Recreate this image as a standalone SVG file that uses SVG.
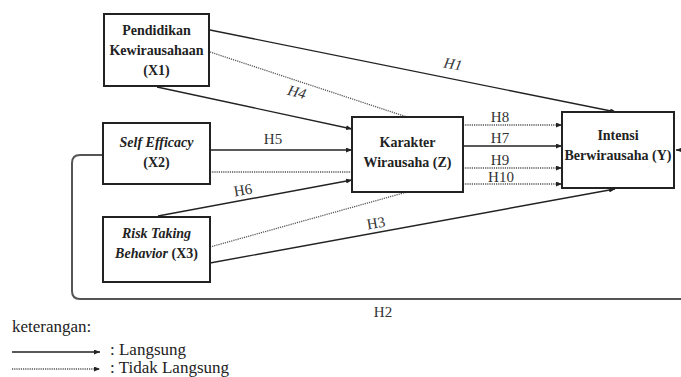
<svg xmlns="http://www.w3.org/2000/svg" width="681" height="377" viewBox="0 0 681 377">
<style>
.box{fill:#fff;stroke:#222;stroke-width:2}
.nt{font-family:"Liberation Serif",serif;font-size:14px;font-weight:bold;fill:#222;text-anchor:middle}
.it{font-style:italic}
.lab{font-family:"Liberation Serif",serif;font-size:15px;fill:#333;text-anchor:middle}
.leg{font-family:"Liberation Serif",serif;font-size:17px;fill:#222}
.solid{fill:none;stroke:#222;stroke-width:1.4}
.dot{fill:none;stroke:#555;stroke-width:1.3;stroke-dasharray:1.2 1}
</style>
<defs>
<marker id="ah" viewBox="0 0 6 5" refX="6" refY="2.5" markerWidth="6" markerHeight="5" orient="auto" markerUnits="userSpaceOnUse">
<path d="M0,0 L6,2.5 L0,5 z" fill="#222"/>
</marker>
</defs>
<rect width="681" height="377" fill="#fff"/>
<g id="connectors">
<line class="solid" x1="210" y1="30" x2="616" y2="112" marker-end="url(#ah)"/>
<line class="dot" x1="210" y1="52" x2="407" y2="117"/>
<line class="solid" x1="157" y1="87" x2="352" y2="129" marker-end="url(#ah)"/>
<line class="solid" x1="210" y1="150" x2="352" y2="150" marker-end="url(#ah)"/>
<line class="dot" x1="210" y1="172" x2="352" y2="172"/>
<line class="solid" x1="158" y1="216" x2="352" y2="180" marker-end="url(#ah)"/>
<line class="dot" x1="210" y1="247" x2="407" y2="192"/>
<line class="solid" x1="210" y1="263" x2="615" y2="189" marker-end="url(#ah)"/>
<line class="dot" x1="463" y1="125" x2="562" y2="125" marker-end="url(#ah)"/>
<line class="solid" x1="463" y1="146" x2="562" y2="146" marker-end="url(#ah)"/>
<line class="dot" x1="463" y1="168" x2="562" y2="168" marker-end="url(#ah)"/>
<line class="dot" x1="463" y1="184" x2="562" y2="184" marker-end="url(#ah)"/>
<path d="M103,155 H80 Q72,155 72,163 V291 Q72,299 80,299 H690 V150 H676" fill="none" stroke="#555" stroke-width="2" marker-end="url(#ah)"/>
<text class="lab it" x="453" y="69" transform="rotate(11 453 64)">H1</text>
<text class="lab it" x="297" y="97" transform="rotate(15 297 92)">H4</text>
<text class="lab" x="273" y="144">H5</text>
<text class="lab" x="243" y="195" transform="rotate(-10 243 190)">H6</text>
<text class="lab" x="376" y="228" transform="rotate(-10 376 223)">H3</text>
<text class="lab" x="500" y="122">H8</text>
<text class="lab" x="500" y="143">H7</text>
<text class="lab" x="500" y="165">H9</text>
<text class="lab" x="501" y="182">H10</text>
<text class="lab" x="383" y="317">H2</text>
</g>
<g id="X1">
<rect class="box" x="104" y="14" width="105" height="72"/>
<text class="nt" x="156.5" y="35">Pendidikan</text>
<text class="nt" x="156.5" y="55">Kewirausahaan</text>
<text class="nt" x="156.5" y="75">(X1)</text>
</g>
<g id="X2">
<rect class="box" x="103" y="123" width="107" height="61"/>
<text class="nt it" x="156.5" y="147">Self Efficacy</text>
<text class="nt" x="156.5" y="167">(X2)</text>
</g>
<g id="X3">
<rect class="box" x="103" y="217" width="107" height="65"/>
<text class="nt it" x="156.5" y="238">Risk Taking</text>
<text class="nt" x="156.5" y="258"><tspan class="it">Behavior</tspan> (X3)</text>
</g>
<g id="Z">
<rect class="box" x="352" y="117" width="111" height="75"/>
<text class="nt" x="407.5" y="147">Karakter</text>
<text class="nt" x="407.5" y="167">Wirausaha (Z)</text>
</g>
<g id="Y">
<rect class="box" x="562" y="112" width="112" height="76"/>
<text class="nt" x="618" y="140">Intensi</text>
<text class="nt" x="618" y="160">Berwirausaha (Y)</text>
</g>
<g id="legend">
<text class="leg" x="12" y="332">keterangan:</text>
<line class="solid" x1="12" y1="352" x2="100" y2="352" marker-end="url(#ah)"/>
<text class="leg" x="110" y="355">: Langsung</text>
<line class="dot" x1="12" y1="369" x2="100" y2="369" marker-end="url(#ah)"/>
<text class="leg" x="110" y="373">: Tidak Langsung</text>
</g>
</svg>
